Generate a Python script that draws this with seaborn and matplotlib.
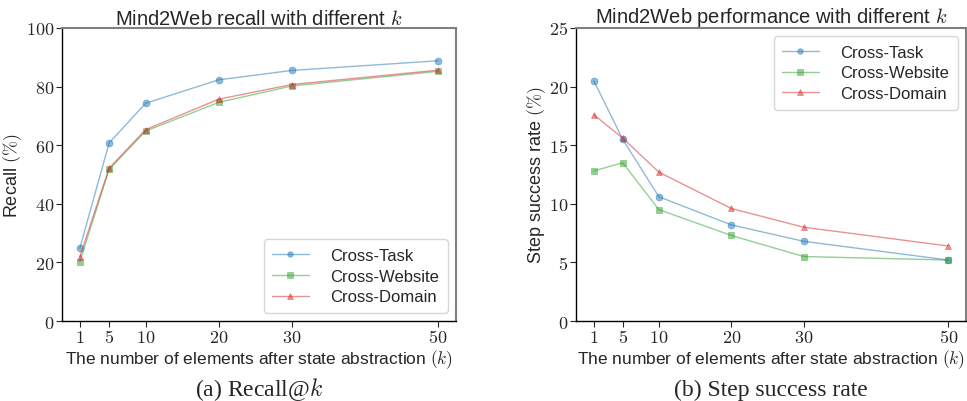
import matplotlib
matplotlib.use("Agg")
import matplotlib.pyplot as plt
import matplotlib.ticker as mticker
import numpy as np
import pandas as pd
import seaborn as sns

k_values = [1, 5, 10, 20, 30, 50]
splits = ["Cross-Task", "Cross-Website", "Cross-Domain"]

recall_task = [24.8, 60.7, 74.3, 82.3, 85.5, 88.8]
recall_website = [20.2, 51.7, 64.8, 74.6, 80.2, 85.2]
recall_domain = [21.9, 52.1, 65.3, 75.7, 80.7, 85.6]

ssr_task = [20.5, 15.5, 10.6, 8.2, 6.8, 5.2]
ssr_website = [12.8, 13.5, 9.5, 7.3, 5.5, 5.2]
ssr_domain = [17.6, 15.6, 12.7, 9.6, 8.0, 6.4]

colors = ["#1f77b4", "#2ca02c", "#d62728"]
markers = ["o", "s", "^"]

sns.set_style("ticks")
plt.rcParams["font.family"] = ["Liberation Sans", "DejaVu Sans"]
plt.rcParams["mathtext.fontset"] = "cm"

fig = plt.figure(figsize=(9.67, 4.02), dpi=100)
ax1 = fig.add_axes([0.064, 0.199, 0.4076, 0.729])
ax2 = fig.add_axes([0.5957, 0.199, 0.4033, 0.729])


def draw(ax, series, ylim, yticks, title, ylabel, legend_loc, caption):
    for name, vals, c, m in zip(splits, series, colors, markers):
        df = pd.DataFrame({"k": k_values, "v": vals})
        sns.lineplot(data=df, x="k", y="v", ax=ax, color=c, marker=m,
                     markersize=5, mec=c, mew=0.5, linewidth=1.0,
                     alpha=0.5, label=name)
    ax.set_ylim(*ylim)
    ax.set_yticks(yticks)
    ax.set_xticks(k_values)
    fmt = mticker.FuncFormatter(lambda v, p: "$%d$" % v)
    ax.xaxis.set_major_formatter(fmt)
    ax.yaxis.set_major_formatter(fmt)
    ax.tick_params(labelsize=13, length=4, width=0.8, pad=1.5)
    ax.set_title(title, fontsize=14.5, pad=3)
    ax.set_xlabel(r"The number of elements after state abstraction $(k)$",
                  fontsize=12.5, labelpad=1)
    ax.set_ylabel(ylabel, fontsize=13, labelpad=1)
    for s in ["left", "bottom"]:
        ax.spines[s].set_color("black")
        ax.spines[s].set_linewidth(1.0)
    for s in ["top", "right"]:
        ax.spines[s].set_color("#808080")
        ax.spines[s].set_linewidth(1.5)
    ax.legend(loc=legend_loc, fontsize=12, handlelength=2.2,
              handletextpad=1.3, borderpad=0.5, labelspacing=0.35,
              markerscale=0.8)
    ax.text(0.5, -0.232, caption, transform=ax.transAxes, ha="center",
            va="center", fontsize=17, family="Liberation Serif")


draw(ax1, [recall_task, recall_website, recall_domain], (0, 100),
     [0, 20, 40, 60, 80, 100], r"Mind2Web recall with different $k$",
     r"Recall $(\%)$", "lower right", r"(a) Recall@$k$")
draw(ax2, [ssr_task, ssr_website, ssr_domain], (0, 25),
     [0, 5, 10, 15, 20, 25], r"Mind2Web performance with different $k$",
     r"Step success rate $(\%)$", "upper right", "(b) Step success rate")

fig.savefig("out.png", dpi=100)
